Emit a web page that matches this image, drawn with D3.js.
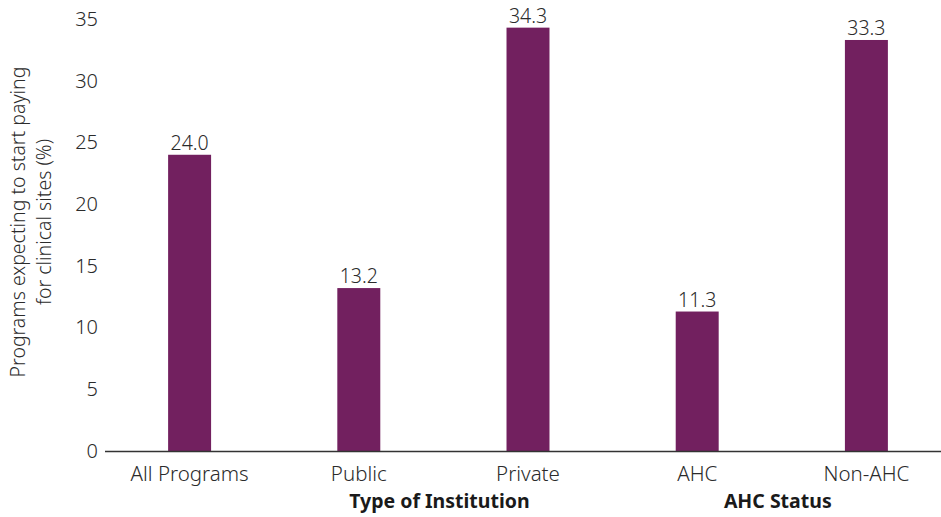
<!DOCTYPE html>
<html>
<head>
<meta charset="utf-8">
<script src="https://cdn.jsdelivr.net/npm/d3@7"></script>
<style>
  html, body { margin: 0; padding: 0; background: #fff; }
  svg { display: block; font-family: "Noto Sans", "Open Sans", sans-serif; }
</style>
</head>
<body>
<svg id="chart" width="941" height="517"></svg>
<script>
// Share of programs expecting to start paying for clinical sites
const categories = ["All Programs", "Public", "Private", "AHC", "Non-AHC"];
const values = [24.0, 13.2, 34.3, 11.3, 33.3];
const yTicks = [0, 5, 10, 15, 20, 25, 30, 35];
const groups = [
  { label: "Type of Institution", members: ["Public", "Private"] },
  { label: "AHC Status", members: ["AHC", "Non-AHC"] }
];
const yTitle = ["Programs expecting to start paying", "for clinical sites (%)"];

const svg = d3.select("#chart");
const W = 941, H = 517;
const left = 105, right = 951;
const y0 = 451, yTop = 19;
const barColor = "#72205f";
const textColor = "#2b2b2b";
const font = "'Noto Sans', 'Open Sans', sans-serif";

const x = d3.scaleBand()
  .domain(categories)
  .range([left, right])
  .paddingInner(0.746)
  .paddingOuter(0.373);

const y = d3.scaleLinear().domain([0, 35]).range([y0, yTop]);

// bars
svg.append("g").selectAll("rect")
  .data(categories.map((c, i) => ({ c, v: values[i] })))
  .join("rect")
  .attr("x", d => x(d.c))
  .attr("y", d => y(d.v))
  .attr("width", x.bandwidth())
  .attr("height", d => y(0) - y(d.v))
  .attr("fill", barColor);

// value labels
svg.append("g").selectAll("text")
  .data(categories.map((c, i) => ({ c, v: values[i] })))
  .join("text")
  .attr("x", d => x(d.c) + x.bandwidth() / 2)
  .attr("y", d => y(d.v) - 5)
  .attr("text-anchor", "middle")
  .attr("font-size", 19.5)
  .attr("font-weight", 300)
  .attr("fill", textColor)
  .text(d => d.v.toFixed(1));

// y axis (labels only)
const yAxis = d3.axisLeft(y).tickValues(yTicks).tickSize(0).tickPadding(0);
const gy = svg.append("g").attr("transform", "translate(98,0)").call(yAxis);
gy.select(".domain").remove();
gy.selectAll("text")
  .attr("font-size", 20)
  .attr("font-weight", 300)
  .attr("font-family", font)
  .attr("fill", textColor);

// x axis baseline and category labels
const xAxis = d3.axisBottom(x).tickSize(0).tickPadding(15);
const gx = svg.append("g").attr("transform", `translate(0,${y0})`).call(xAxis);
gx.select(".domain")
  .attr("d", `M${left},0.5H${W}`)
  .attr("stroke", "#333")
  .attr("stroke-width", 1.5);
gx.selectAll("text")
  .attr("font-size", 20.5)
  .attr("font-weight", 300)
  .attr("font-family", font)
  .attr("fill", textColor);

// group labels
svg.append("g").selectAll("text")
  .data(groups)
  .join("text")
  .attr("x", g => {
    const cs = g.members.map(m => x(m) + x.bandwidth() / 2);
    return d3.mean(cs) - 4;
  })
  .attr("y", 508)
  .attr("text-anchor", "middle")
  .attr("font-size", 19.5)
  .attr("font-weight", "bold")
  .attr("fill", "#1a1a1a")
  .text(g => g.label);

// y axis title
const title = svg.append("text")
  .attr("transform", "translate(0,222) rotate(-90)")
  .attr("text-anchor", "middle")
  .attr("font-size", 19.5)
  .attr("font-weight", 300)
  .attr("fill", textColor);
title.selectAll("tspan")
  .data(yTitle)
  .join("tspan")
  .attr("x", 0)
  .attr("y", (d, i) => 25 + i * 26)
  .text(d => d);
</script>
</body>
</html>
